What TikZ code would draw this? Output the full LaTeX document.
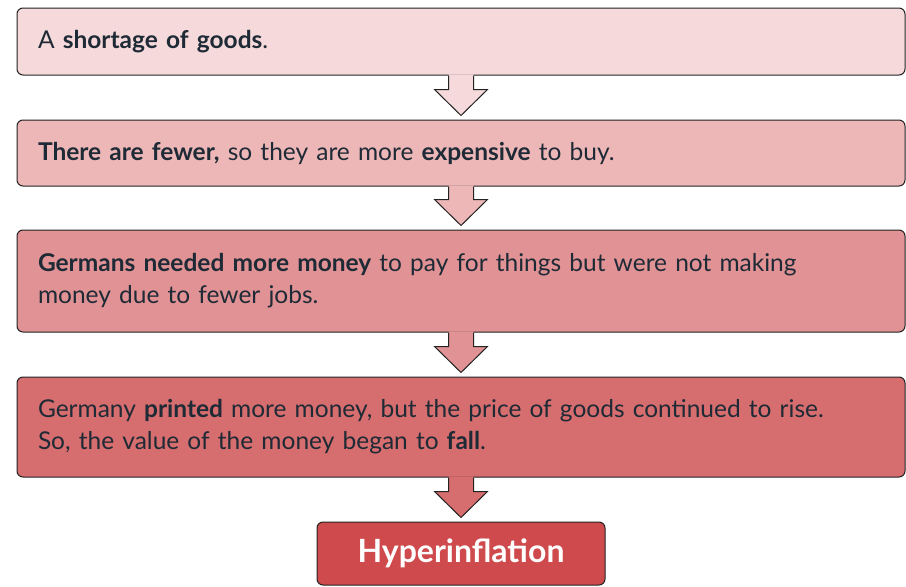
\documentclass[tikz,border=0pt]{standalone}
\usepackage{fontspec}
\setmainfont{Lato}
\usetikzlibrary{calc}
\definecolor{c1}{HTML}{F6D9DA}
\definecolor{c2}{HTML}{EDB7B8}
\definecolor{c3}{HTML}{E19294}
\definecolor{c4}{HTML}{D66D6E}
\definecolor{c5}{HTML}{CF4A4D}
\definecolor{txt}{HTML}{1E2A35}
\definecolor{linec}{HTML}{222222}
\begin{document}
\begin{tikzpicture}[x=1pt,y=-1pt,
  box/.style={draw=linec, line width=1pt, rounded corners=6pt, minimum width=888pt,
    text width=846pt, inner xsep=21pt, inner ysep=0pt, align=left, text=txt,
    font=\fontsize{24.5}{32}\selectfont},
  finalbox/.style={draw=linec, line width=1pt, rounded corners=6pt, minimum width=288pt,
    minimum height=63pt, fill=c5, text=white, font=\fontsize{32}{36}\selectfont\bfseries},
  arrowline/.style={draw=linec, line width=1pt, line join=miter}]
\useasboundingbox (0,0) rectangle (906,587);
\node[box, fill=c1, minimum height=67pt] (b1) at (461,41.5) {A \textbf{shortage of goods}.};
\node[box, fill=c2, minimum height=66pt] (b2) at (461,153) {\textbf{There are fewer,} so they are more \textbf{expensive} to buy.};
\node[box, fill=c3, minimum height=102pt] (b3) at (461,281) {\textbf{Germans needed more money} to pay for things but were not making\\money due to fewer jobs.};
\node[box, fill=c4, minimum height=100pt] (b4) at (461,427) {Germany \textbf{printed} more money, but the price of goods continued to rise.\\So, the value of the money began to \textbf{fall}.};
\node[finalbox] (b5) at (461,553.5) {Hyperinflation};
\foreach \u/\v/\c in {b1/b2/c1, b2/b3/c2, b3/b4/c3, b4/b5/c4} {
  \coordinate (s) at (\u.south);
  \coordinate (t) at ($(\v.north)+(0,-4)$);
  \fill[\c] ($(s)+(-12.5,-1.2)$) |- ($(t)+(-26.5,-26)$) -- (t) -- ($(t)+(26.5,-26)$) -| ($(s)+(12.5,-1.2)$) -- cycle;
  \draw[arrowline] ($(s)+(-12.5,0)$) |- ($(t)+(-26.5,-26)$) -- (t) -- ($(t)+(26.5,-26)$) -| ($(s)+(12.5,0)$);
}
\end{tikzpicture}
\end{document}
